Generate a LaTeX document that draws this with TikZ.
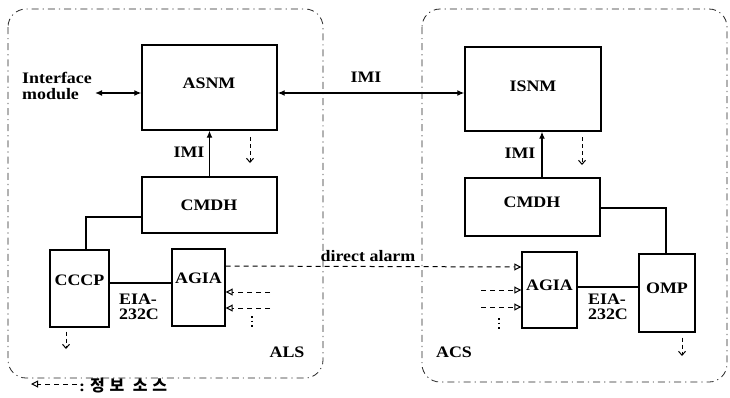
\documentclass[tikz,border=0pt]{standalone}
\usepackage{fontspec}
\setmainfont[FakeStretch=1.12]{Liberation Serif}
\newfontfamily\kr[LetterSpace=30]{Noto Sans CJK KR}
\usetikzlibrary{arrows.meta}
\tikzset{
  box/.style={draw, line width=1.4pt, inner sep=0pt},
  lbl/.style={font=\fontsize{16}{15.5}\selectfont\bfseries, inner sep=0pt},
  cont/.style={draw=black!85, line width=0.8pt, dash pattern=on 7pt off 4pt on 1.2pt off 4pt, rounded corners=18pt},
  imi/.style={line width=1.3pt, -{Latex[length=7pt,width=6pt]}},
  imi2/.style={line width=1.3pt, {Latex[length=7pt,width=6pt]}-{Latex[length=7pt,width=6pt]}},
  alarm/.style={dash pattern=on 5pt off 4pt, line width=1pt, -{Triangle[open,length=7pt,width=7pt,line width=1pt]}},
  info/.style={dash pattern=on 4pt off 3pt, line width=1pt, -{Straight Barb[length=4pt,width=7pt]}},
  plain/.style={line width=1.3pt},
  dots/.style={line width=1.5pt, dash pattern=on 1.5pt off 3pt}
}
\begin{document}
\begin{tikzpicture}[x=1pt,y=-1pt]
\useasboundingbox (0,0) rectangle (730,397);
% containers
\draw[cont] (8,9) rectangle (323,378);
\draw[cont] (422,9) rectangle (727,382);
% boxes
\node[box, minimum width=135pt, minimum height=85pt] (ASNM) at (209.5,87.5) {};
\node[box, minimum width=136pt, minimum height=84pt] (ISNM) at (533,89) {};
\node[box, minimum width=135pt, minimum height=56pt] (CMDHa) at (209.5,205) {};
\node[box, minimum width=135pt, minimum height=58pt] (CMDHb) at (532.5,207) {};
\node[box, minimum width=59pt, minimum height=77pt] (CCCP) at (79.5,288.5) {};
\node[box, minimum width=53pt, minimum height=77pt] (AGIAa) at (198.5,287.5) {};
\node[box, minimum width=55pt, minimum height=76pt] (AGIAb) at (549.5,290) {};
\node[box, minimum width=56pt, minimum height=78pt] (OMP) at (667,293) {};
% box texts
\node[lbl] (asnmT) at (209,83) {ASNM};
\node[lbl] (isnmT) at (533,86) {ISNM};
\node[lbl] (cmdhaT) at (209,205) {CMDH};
\node[lbl] (cmdhbT) at (532,202) {CMDH};
\node[lbl] (cccpT) at (79.5,280) {CCCP};
\node[lbl] (agiaaT) at (198.5,278) {AGIA};
\node[lbl] (agiabT) at (549.5,285) {AGIA};
\node[lbl] (ompT) at (667,288) {OMP};
% interface module
\node[lbl, align=left, anchor=west] (ifm) at (22,86) {Interface\\module};
\coordinate (ifA) at (95,93);
\draw[imi2] (ifA) -- (ifA -| ASNM.west);
% IMI between ASNM and ISNM
\coordinate (imiA) at (ASNM.east |- ifA);
\draw[imi2] (imiA) -- (imiA -| ISNM.west);
\node[lbl] (imiT) at (366,77) {IMI};
% CMDH to SNM
\draw[imi] (CMDHa.north) -- (ASNM.south);
\node[lbl] (imiTa) at (189,152) {IMI};
\draw[imi] (CMDHb.north -| 542,0) -- (ISNM.south -| 542,0);
\node[lbl] (imiTb) at (520,153) {IMI};
\coordinate (da1) at (250,137);
\coordinate (da2) at (250,163);
\draw[info] (da1) -- (da2);
\coordinate (db1) at (582,137);
\coordinate (db2) at (582,165);
\draw[info] (db1) -- (db2);
% CMDH to CCCP / OMP
\draw[plain] (CMDHa.west |- 0,217) -| (CCCP.north -| 86,0);
\draw[plain] (CMDHb.east |- 0,208) -| (OMP.north -| 666,0);
% EIA-232C links
\draw[plain] (CCCP.east |- 0,283) -- (AGIAa.west |- 0,283);
\node[lbl, align=left] (eiaA) at (139,307) {EIA-\\232C};
\draw[plain] (AGIAb.east |- 0,287) -- (OMP.west |- 0,287);
\node[lbl, align=left] (eiaB) at (608,307) {EIA-\\232C};
% direct alarm
\draw[alarm] (AGIAa.east |- 0,266) -- (AGIAb.west |- 0,267);
\node[lbl] (daT) at (368,256) {direct alarm};
% inputs into AGIA (left)
\coordinate (ia1) at (270,292);
\coordinate (ia2) at (270,308);
\draw[alarm] (ia1) -- (ia1 -| AGIAa.east);
\draw[alarm] (ia2) -- (ia2 -| AGIAa.east);
\coordinate (dota1) at (252,316);
\coordinate (dota2) at (252,329);
\draw[dots] (dota1) -- (dota2);
% inputs into AGIA (right)
\coordinate (ib1) at (481,290);
\coordinate (ib2) at (481,307);
\draw[alarm] (ib1) -- (ib1 -| AGIAb.west);
\draw[alarm] (ib2) -- (ib2 -| AGIAb.west);
\coordinate (dotb1) at (499,318);
\coordinate (dotb2) at (499,331);
\draw[dots] (dotb1) -- (dotb2);
% outputs below CCCP and OMP
\coordinate (oc) at (66,349);
\draw[info] (CCCP.south -| oc) ++(0,4) -- (oc);
\coordinate (oo) at (682,356);
\draw[info] (OMP.south -| oo) ++(0,5) -- (oo);
% system labels
\node[lbl] (als) at (287,352) {ALS};
\node[lbl] (acs) at (454,352) {ACS};
% legend
\coordinate (lg1) at (77,384);
\coordinate (lg2) at (31,384);
\draw[alarm] (lg1) -- (lg2);
\node[lbl, anchor=west] (lgT) at (79,386) {:\hspace{5pt}{\kr\fontsize{16}{16}\selectfont\bfseries 정보 소스}};
\end{tikzpicture}
\end{document}
